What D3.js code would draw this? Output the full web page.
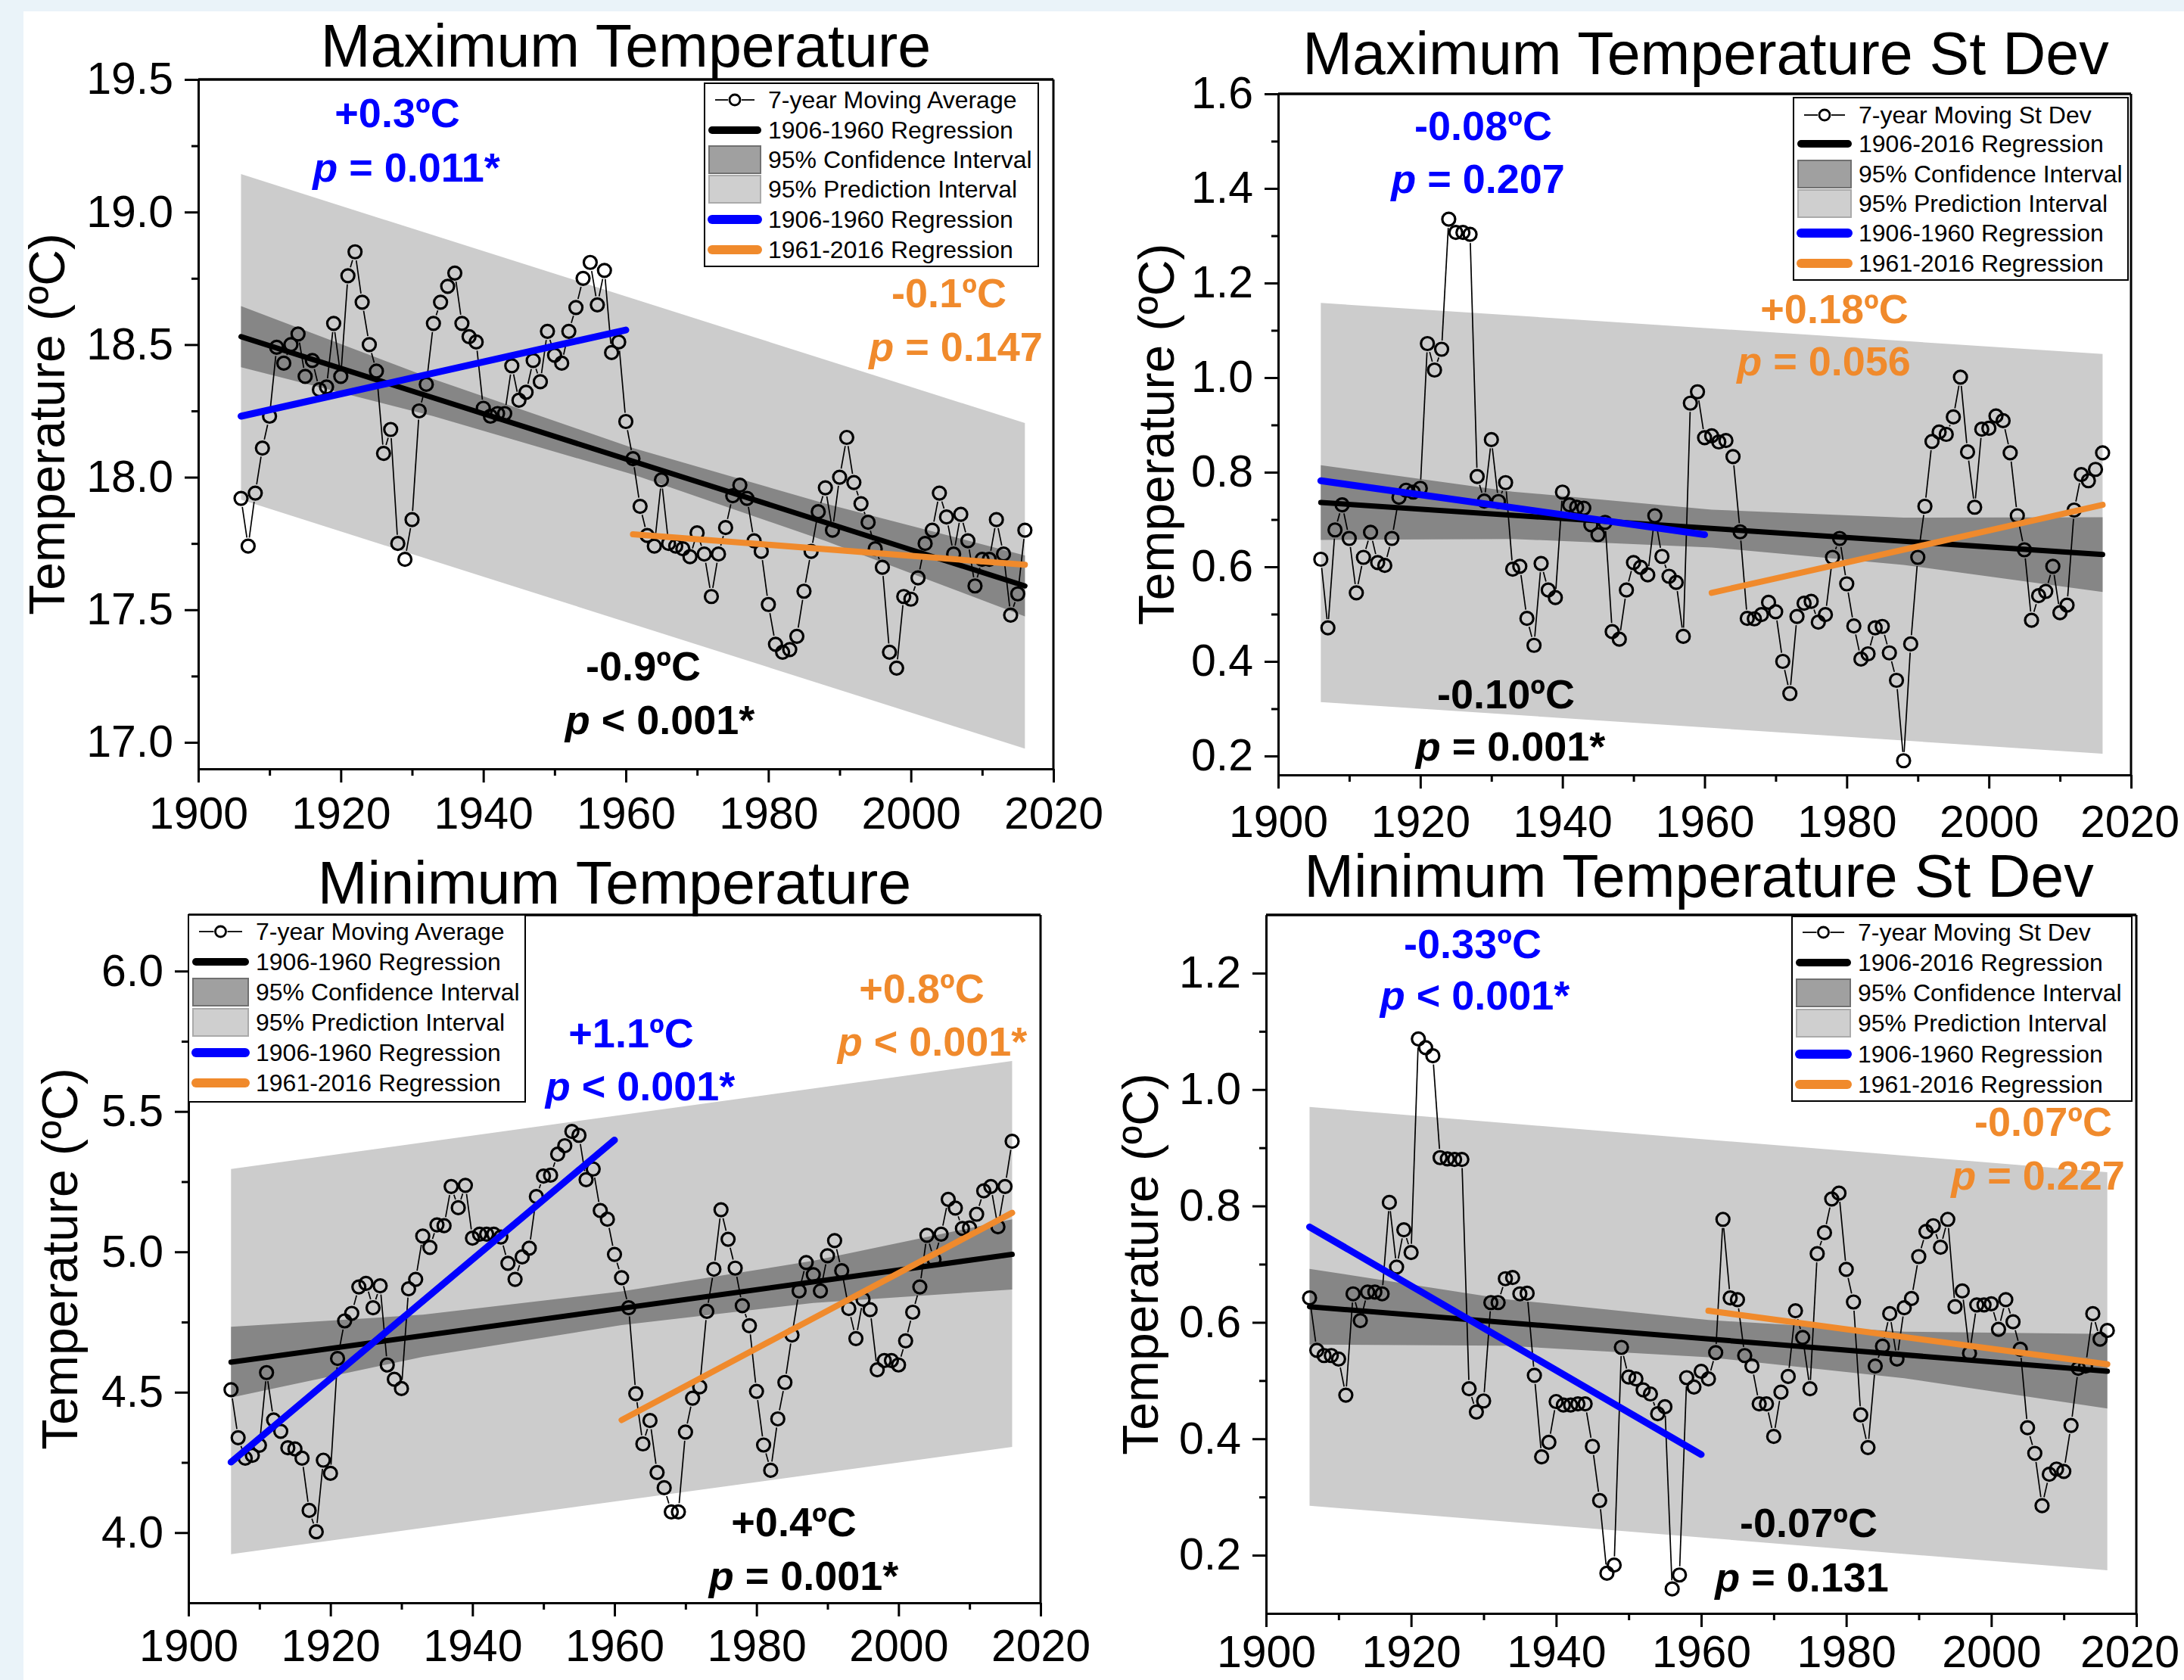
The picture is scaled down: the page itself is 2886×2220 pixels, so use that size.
<!DOCTYPE html>
<html><head><meta charset="utf-8">
<script src="https://cdn.jsdelivr.net/npm/d3@7"></script>
<style>
html,body{margin:0;padding:0;background:#fff;}
svg{display:block;}
text{font-family:"Liberation Sans", Arial, sans-serif;}
</style></head><body>
<svg id="chart" width="2886" height="2220"></svg>
<script>
// ---------------- DATA ----------------
const years = d3.range(1906, 2017);

const tmaxAvg = [17.92,17.74,17.94,18.11,18.23,18.49,18.43,18.50,18.54,18.38,
18.44,18.33,18.34,18.58,18.38,18.76,18.85,18.66,18.50,18.40,
18.09,18.18,17.75,17.69,17.84,18.25,18.35,18.58,18.66,18.72,
18.77,18.58,18.53,18.51,18.26,18.23,18.24,18.24,18.42,18.29,
18.32,18.44,18.36,18.55,18.46,18.43,18.55,18.64,18.75,18.81,
18.65,18.78,18.47,18.51,18.21,18.07,17.89,17.78,17.74,17.99,
17.75,17.74,17.73,17.70,17.79,17.71,17.55,17.71,17.81,17.93,
17.97,17.92,17.76,17.72,17.52,17.37,17.34,17.35,17.40,17.57,
17.72,17.87,17.96,17.80,18.00,18.15,17.98,17.90,17.83,17.73,
17.66,17.34,17.28,17.55,17.54,17.62,17.75,17.80,17.94,17.85,
17.71,17.86,17.76,17.59,17.69,17.69,17.84,17.71,17.48,17.56,17.80];

const tmaxSd = [0.616,0.471,0.678,0.731,0.660,0.545,0.620,0.673,0.609,0.603,
0.660,0.747,0.762,0.758,0.766,1.072,1.016,1.060,1.335,1.307,
1.307,1.303,0.791,0.739,0.869,0.738,0.778,0.595,0.601,0.491,
0.434,0.607,0.551,0.535,0.758,0.731,0.726,0.724,0.689,0.668,
0.694,0.463,0.447,0.551,0.609,0.599,0.583,0.708,0.622,0.580,
0.567,0.453,0.946,0.970,0.873,0.877,0.864,0.867,0.833,0.674,
0.491,0.490,0.499,0.525,0.505,0.400,0.332,0.495,0.523,0.527,
0.483,0.499,0.620,0.660,0.564,0.475,0.405,0.416,0.471,0.474,
0.418,0.360,0.190,0.437,0.620,0.728,0.865,0.885,0.880,0.917,
1.001,0.843,0.726,0.891,0.893,0.919,0.909,0.841,0.708,0.636,
0.487,0.539,0.548,0.601,0.503,0.519,0.720,0.795,0.782,0.806,0.841];

const tminAvg = [4.509,4.338,4.265,4.275,4.311,4.570,4.401,4.361,4.302,4.298,
4.265,4.079,4.003,4.258,4.211,4.620,4.754,4.781,4.875,4.888,
4.801,4.879,4.597,4.546,4.513,4.868,4.902,5.056,5.016,5.096,
5.093,5.233,5.157,5.237,5.049,5.063,5.063,5.063,5.053,4.959,
4.902,4.982,5.013,5.197,5.270,5.273,5.348,5.378,5.429,5.415,
5.257,5.295,5.147,5.116,4.991,4.908,4.801,4.495,4.316,4.399,
4.214,4.160,4.074,4.074,4.358,4.479,4.519,4.788,4.938,5.150,
5.045,4.942,4.808,4.737,4.503,4.312,4.222,4.405,4.535,4.704,
4.861,4.962,4.919,4.861,4.986,5.040,4.933,4.798,4.691,4.831,
4.794,4.580,4.613,4.613,4.597,4.683,4.785,4.875,5.059,4.973,
5.063,5.187,5.156,5.083,5.085,5.134,5.217,5.233,5.089,5.233,5.394];

const tminSd = [0.642,0.552,0.543,0.543,0.537,0.475,0.649,0.603,0.652,0.652,
0.649,0.806,0.695,0.759,0.720,1.087,1.072,1.058,0.883,0.881,
0.880,0.880,0.486,0.446,0.465,0.634,0.634,0.675,0.677,0.649,
0.650,0.509,0.369,0.394,0.464,0.458,0.458,0.460,0.460,0.387,
0.294,0.169,0.183,0.557,0.506,0.503,0.484,0.477,0.443,0.455,
0.142,0.166,0.505,0.489,0.516,0.503,0.548,0.777,0.642,0.639,
0.543,0.525,0.460,0.460,0.404,0.480,0.507,0.620,0.574,0.486,
0.718,0.754,0.812,0.822,0.691,0.635,0.441,0.385,0.525,0.559,
0.615,0.537,0.625,0.641,0.713,0.756,0.766,0.729,0.777,0.627,
0.654,0.547,0.630,0.630,0.632,0.588,0.639,0.601,0.554,0.419,
0.375,0.285,0.339,0.348,0.344,0.423,0.521,0.525,0.615,0.571,0.586];

// regression lines (values at the listed years)
const fullYears = [1906, 2016];
const earlyYears = [1906, 1960];
const lateYears = [1961, 2016];
const bandYears = [1906, 1933, 1961, 1988, 2016];

const tmaxBlack = [18.53, 17.59];
const tmaxBlue = [18.23, 18.555];
const tmaxOrange = [17.785, 17.67];
const tmaxPIup = [19.143, 18.204];
const tmaxPIlo = [17.915, 16.976];
const tmaxCIup = [18.645, 18.37, 18.11, 17.90, 17.705];
const tmaxCIlo = [18.415, 18.23, 18.01, 17.76, 17.475];

const tmaxSdBlack = [0.736, 0.626];
const tmaxSdBlue = [0.782, 0.668];
const tmaxSdOrange = [0.545, 0.731];
const tmaxSdPIup = [1.158, 1.050];
const tmaxSdPIlo = [0.314, 0.205];
const tmaxSdCIup = [0.815, 0.759, 0.721, 0.704, 0.705];
const tmaxSdCIlo = [0.657, 0.659, 0.641, 0.604, 0.547];

const tminBlack = [4.607, 4.991];
const tminBlue = [4.251, 5.398];
const tminOrange = [4.401, 5.139];
const tminPIup = [5.295, 5.680];
const tminPIlo = [3.923, 4.305];
const tminCIup = [4.733, 4.776, 4.859, 4.968, 5.116];
const tminCIlo = [4.481, 4.626, 4.739, 4.818, 4.866];

const tminSdBlack = [0.627, 0.516];
const tminSdBlue = [0.764, 0.373];
const tminSdOrange = [0.620, 0.528];
const tminSdPIup = [0.970, 0.858];
const tminSdPIlo = [0.285, 0.174];
const tminSdCIup = [0.692, 0.640, 0.604, 0.584, 0.580];
const tminSdCIlo = [0.562, 0.560, 0.540, 0.504, 0.452];

// tick labels
const xTicks = [1900, 1920, 1940, 1960, 1980, 2000, 2020];
const xMinor = [1910, 1930, 1950, 1970, 1990, 2010];
const tmaxTicks = [17.0, 17.5, 18.0, 18.5, 19.0, 19.5];
const tmaxMinor = [17.25, 17.75, 18.25, 18.75, 19.25];
const tmaxSdTicks = [0.2, 0.4, 0.6, 0.8, 1.0, 1.2, 1.4, 1.6];
const tmaxSdMinor = [0.3, 0.5, 0.7, 0.9, 1.1, 1.3, 1.5];
const tminTicks = [4.0, 4.5, 5.0, 5.5, 6.0];
const tminMinor = [4.25, 4.75, 5.25, 5.75];
const tminSdTicks = [0.2, 0.4, 0.6, 0.8, 1.0, 1.2];
const tminSdMinor = [0.3, 0.5, 0.7, 0.9, 1.1];

// texts
const titles = ["Maximum Temperature", "Maximum Temperature St Dev", "Minimum Temperature", "Minimum Temperature St Dev"];
const yLabel = "Temperature (ºC)";
const legendAvg = ["7-year Moving Average", "1906-1960 Regression", "95% Confidence Interval", "95% Prediction Interval", "1906-1960 Regression", "1961-2016 Regression"];
const legendSd = ["7-year Moving St Dev", "1906-2016 Regression", "95% Confidence Interval", "95% Prediction Interval", "1906-1960 Regression", "1961-2016 Regression"];
const tmaxNotes = [["+0.3ºC", " = 0.011*"], ["-0.1ºC", " = 0.147"], ["-0.9ºC", " < 0.001*"]];
const tmaxSdNotes = [["-0.08ºC", " = 0.207"], ["+0.18ºC", " = 0.056"], ["-0.10ºC", " = 0.001*"]];
const tminNotes = [["+1.1ºC", " < 0.001*"], ["+0.8ºC", " < 0.001*"], ["+0.4ºC", " = 0.001*"]];
const tminSdNotes = [["-0.33ºC", " < 0.001*"], ["-0.07ºC", " = 0.227"], ["-0.07ºC", " = 0.131"]];

// ---------------- LAYOUT / STYLE ----------------
const BLUE = "#0000ff", ORANGE = "#f08a2c", PI = "#cccccc", CI = "#868686";
const noteColors = [BLUE, ORANGE, "#000"];

const panels = [
 {x0:262, x1:1392, y0:105, y1:1016, ydom:[16.9,19.5], ticks:tmaxTicks, minor:tmaxMinor, xpad:19, lastShift:0,
  title:titles[0], tx:827, ty:88, ylx:85, series:tmaxAvg,
  black:tmaxBlack, blue:tmaxBlue, orange:tmaxOrange, piU:tmaxPIup, piL:tmaxPIlo, ciU:tmaxCIup, ciL:tmaxCIlo,
  legend:{x0:931, x1:1372, y0:110, y1:352, tx:1015, rows:[132,172,211,250,290,330]}, labels:legendAvg,
  notes:tmaxNotes, notePos:[[525,168,537,240],[1254,406,1263,477],[850,899,872,970]]},
 {x0:1689, x1:2816, y0:124, y1:1024, ydom:[0.16,1.6], ticks:tmaxSdTicks, minor:tmaxSdMinor, xpad:22, lastShift:-2,
  title:titles[1], tx:2254, ty:98, ylx:1551, series:tmaxSd,
  black:tmaxSdBlack, blue:tmaxSdBlue, orange:tmaxSdOrange, piU:tmaxSdPIup, piL:tmaxSdPIlo, ciU:tmaxSdCIup, ciL:tmaxSdCIlo,
  legend:{x0:2370, x1:2812, y0:129, y1:370, tx:2456, rows:[152,190,230,269,308,348]}, labels:legendSd,
  notes:tmaxSdNotes, notePos:[[1960,185,1953,255],[2424,427,2410,496],[1990,936,1996,1005]]},
 {x0:249, x1:1375, y0:1209, y1:2118, ydom:[3.75,6.2], ticks:tminTicks, minor:tminMinor, xpad:17, lastShift:0,
  title:titles[2], tx:812, ty:1194, ylx:102, series:tminAvg,
  black:tminBlack, blue:tminBlue, orange:tminOrange, piU:tminPIup, piL:tminPIlo, ciU:tminCIup, ciL:tminCIlo,
  legend:{x0:249, x1:694, y0:1209, y1:1456, tx:338, rows:[1231,1271,1311,1351,1391,1431]}, labels:legendAvg,
  notes:tminNotes, notePos:[[834,1384,846,1454],[1218,1325,1232,1395],[1049,2030,1062,2101]]},
 {x0:1673, x1:2823, y0:1209, y1:2132, ydom:[0.1,1.3], ticks:tminSdTicks, minor:tminSdMinor, xpad:11, lastShift:-9,
  title:titles[3], tx:2245, ty:1185, ylx:1530, series:tminSd,
  black:tminSdBlack, blue:tminSdBlue, orange:tminSdOrange, piU:tminSdPIup, piL:tminSdPIlo, ciU:tminSdCIup, ciL:tminSdCIlo,
  legend:{x0:2368, x1:2817, y0:1211, y1:1455, tx:2455, rows:[1232,1272,1312,1352,1393,1433]}, labels:legendSd,
  notes:tminSdNotes, notePos:[[1946,1266,1949,1334],[2700,1501,2693,1572],[2390,2031,2381,2103]]}
];

// ---------------- DRAW ----------------
const svg = d3.select("#chart");
svg.append("rect").attr("width",2886).attr("height",2220).attr("fill","#fff");
svg.append("rect").attr("x",0).attr("y",0).attr("width",2886).attr("height",15).attr("fill","#eaf3f9");
svg.append("rect").attr("x",0).attr("y",0).attr("width",31).attr("height",2220).attr("fill","#eaf3f9");

function zip(xs, ys){ return xs.map((v,i)=>({yr:v, v:ys[i]})); }

panels.forEach(P => {
  const g = svg.append("g");
  const x = d3.scaleLinear().domain([1900,2020]).range([P.x0, P.x1]);
  const y = d3.scaleLinear().domain(P.ydom).range([P.y1, P.y0]);

  // bands
  const area = d3.area().x(d=>x(d.yr)).y0(d=>y(d.lo)).y1(d=>y(d.hi));
  g.append("path").attr("d", area(fullYears.map((yr,i)=>({yr, lo:P.piL[i], hi:P.piU[i]})))).attr("fill",PI);
  g.append("path").attr("d", area(bandYears.map((yr,i)=>({yr, lo:P.ciL[i], hi:P.ciU[i]})))).attr("fill",CI);

  const line = d3.line().x(d=>x(d.yr)).y(d=>y(d.v));
  g.append("path").attr("d", line(zip(fullYears,P.black))).attr("stroke","#000").attr("stroke-width",7)
    .attr("stroke-linecap","round").attr("fill","none");

  // data line with gaps near markers
  const pts = years.map((yr,i)=>[x(yr), y(P.series[i])]);
  const r = 8.5, gap = 11.5;
  const segs = [];
  for(let i=0;i<pts.length-1;i++){
    const [ax,ay]=pts[i], [bx,by]=pts[i+1];
    const dx=bx-ax, dy=by-ay, d=Math.hypot(dx,dy);
    if(d>2*gap+1){ const ux=dx/d, uy=dy/d;
      segs.push([ax+ux*gap, ay+uy*gap, bx-ux*gap, by-uy*gap]); }
  }
  g.append("g").selectAll("line").data(segs).join("line")
    .attr("x1",d=>d[0]).attr("y1",d=>d[1]).attr("x2",d=>d[2]).attr("y2",d=>d[3])
    .attr("stroke","#000").attr("stroke-width",1.7);
  g.append("g").selectAll("circle").data(years).join("circle")
    .attr("cx",(d,i)=>x(d)).attr("cy",(d,i)=>y(P.series[i])).attr("r",r)
    .attr("fill","none").attr("stroke","#000").attr("stroke-width",3.2);

  g.append("path").attr("d", line(zip(earlyYears,P.blue))).attr("stroke",BLUE).attr("stroke-width",9)
    .attr("stroke-linecap","round").attr("fill","none");
  g.append("path").attr("d", line(zip(lateYears,P.orange))).attr("stroke",ORANGE).attr("stroke-width",8)
    .attr("stroke-linecap","round").attr("fill","none");

  // axes
  const fmt = d3.format(".1f");
  const styleAxis = (sel)=>{
    sel.selectAll(".domain").attr("stroke-width",3).attr("stroke","#000");
    sel.selectAll(".tick line").attr("stroke-width",3).attr("stroke","#000");
    sel.selectAll(".tick text").attr("font-size",59).attr("fill","#000")
       .attr("font-family","'Liberation Sans', Arial, sans-serif");
  };
  g.append("g").attr("transform",`translate(${P.x0},0)`)
    .call(d3.axisLeft(y).tickValues(P.ticks).tickFormat(fmt).tickSize(18).tickPadding(15).tickSizeOuter(0))
    .call(styleAxis);
  g.append("g").attr("transform",`translate(${P.x0},0)`)
    .call(d3.axisLeft(y).tickValues(P.minor).tickFormat("").tickSize(9).tickSizeOuter(0))
    .call(styleAxis);
  const xb = g.append("g").attr("transform",`translate(0,${P.y1})`)
    .call(d3.axisBottom(x).tickValues(xTicks).tickFormat(d3.format("d")).tickSize(18).tickPadding(P.xpad).tickSizeOuter(0))
    .call(styleAxis);
  xb.selectAll(".tick text").filter(d=>d===2020).attr("dx", P.lastShift);
  g.append("g").attr("transform",`translate(0,${P.y1})`)
    .call(d3.axisBottom(x).tickValues(xMinor).tickFormat("").tickSize(9).tickSizeOuter(0))
    .call(styleAxis);
  g.append("line").attr("x1",P.x0).attr("x2",P.x1).attr("y1",P.y0).attr("y2",P.y0).attr("stroke","#000").attr("stroke-width",3.5);
  g.append("line").attr("x1",P.x1).attr("x2",P.x1).attr("y1",P.y0).attr("y2",P.y1).attr("stroke","#000").attr("stroke-width",3);

  // title and y label
  g.append("text").attr("x",P.tx).attr("y",P.ty).attr("text-anchor","middle").attr("font-size",79).text(P.title);
  g.append("text").attr("transform",`translate(${P.ylx},${(P.y0+P.y1)/2}) rotate(-90)`)
    .attr("text-anchor","middle").attr("font-size",66).text(yLabel);

  // legend
  const L = P.legend;
  const lg = g.append("g");
  lg.append("rect").attr("x",L.x0).attr("y",L.y0).attr("width",L.x1-L.x0).attr("height",L.y1-L.y0)
    .attr("fill","#fff").attr("stroke","#000").attr("stroke-width",2);
  const sx0 = L.x0+6, sx1 = L.tx-10, cx=(sx0+sx1)/2;
  const R = L.rows;
  lg.append("line").attr("x1",sx0+8).attr("x2",cx-9).attr("y1",R[0]).attr("y2",R[0]).attr("stroke","#000").attr("stroke-width",1.8);
  lg.append("line").attr("x1",cx+9).attr("x2",sx1-8).attr("y1",R[0]).attr("y2",R[0]).attr("stroke","#000").attr("stroke-width",1.8);
  lg.append("circle").attr("cx",cx).attr("cy",R[0]).attr("r",7).attr("fill","none").attr("stroke","#000").attr("stroke-width",2.8);
  lg.append("line").attr("x1",sx0+4).attr("x2",sx1-4).attr("y1",R[1]).attr("y2",R[1]).attr("stroke","#000").attr("stroke-width",10).attr("stroke-linecap","round");
  lg.append("rect").attr("x",sx0).attr("y",R[2]-18).attr("width",sx1-sx0).attr("height",36).attr("fill","#a0a0a0").attr("stroke","#707070").attr("stroke-width",2);
  lg.append("rect").attr("x",sx0).attr("y",R[3]-18).attr("width",sx1-sx0).attr("height",36).attr("fill","#cfcfcf").attr("stroke","#aaaaaa").attr("stroke-width",2);
  lg.append("line").attr("x1",sx0+4).attr("x2",sx1-4).attr("y1",R[4]).attr("y2",R[4]).attr("stroke",BLUE).attr("stroke-width",12).attr("stroke-linecap","round");
  lg.append("line").attr("x1",sx0+4).attr("x2",sx1-4).attr("y1",R[5]).attr("y2",R[5]).attr("stroke",ORANGE).attr("stroke-width",12).attr("stroke-linecap","round");
  lg.selectAll("text.lt").data(P.labels).join("text").attr("class","lt")
    .attr("x",L.tx).attr("y",(d,i)=>R[i]+11).attr("font-size",32).text(d=>d);

  // annotations
  P.notes.forEach((n,i)=>{
    const [ax,ay,bx,by] = P.notePos[i];
    g.append("text").attr("x",ax).attr("y",ay).attr("text-anchor","middle").attr("font-size",54)
      .attr("font-weight","bold").attr("fill",noteColors[i]).text(n[0]);
    const t = g.append("text").attr("x",bx).attr("y",by).attr("text-anchor","middle").attr("font-size",54)
      .attr("font-weight","bold").attr("fill",noteColors[i]);
    t.append("tspan").attr("font-style","italic").text("p");
    t.append("tspan").text(n[1]);
  });
});
</script>
</body></html>
